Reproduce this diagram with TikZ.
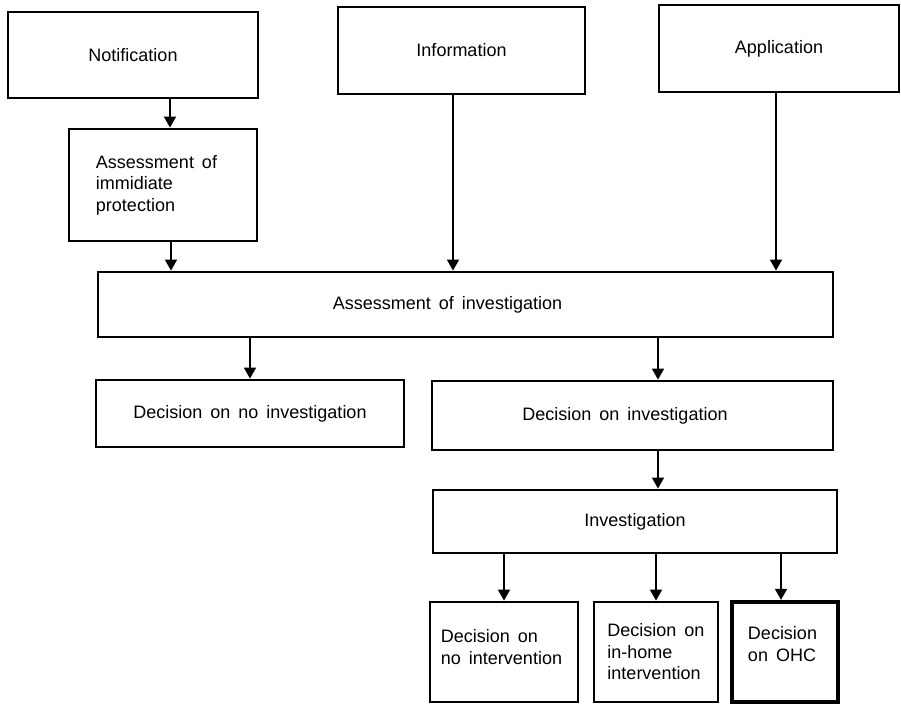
\documentclass[tikz,border=0pt]{standalone}
\usepackage{fontspec}
\setmainfont[WordSpace=1.6]{Liberation Sans}
\usetikzlibrary{arrows.meta}
\newcommand{\dn}[1]{\rule[-#1]{0pt}{0pt}}
\begin{document}
\begin{tikzpicture}[x=1pt,y=-1pt,
  box/.style={draw=black,line width=2.8pt,rectangle,inner sep=0pt,
    font=\fontsize{18}{21.5}\selectfont,align=center},
  tbox/.style={box,align=left},
  arr/.style={line width=1.5pt,-{Triangle[width=12pt,length=11pt]}}]
\fill[white] (0,0) rectangle (901,704);
\useasboundingbox (0,0) rectangle (901,704);
% top row
\node[box,minimum width=250pt,minimum height=86pt] (notif) at (133,55) {Notification};
\node[box,minimum width=247pt,minimum height=87pt] (info) at (461.5,50.5) {Information};
\node[box,minimum width=240pt,minimum height=87pt] (appl) at (779,48.5) {Application};
\node[tbox,minimum width=188pt,minimum height=112pt] (aip) at (163,185)
  {Assessment of\hspace*{13pt}\\immidiate\\protection};
\node[box,minimum width=735pt,minimum height=65pt] (aoi) at (465.5,304.5)
  {Assessment of investigation\hspace*{36pt}};
\node[box,minimum width=308pt,minimum height=67pt] (dni) at (250,413.5) {Decision on no investigation};
\node[box,minimum width=401pt,minimum height=69pt] (di) at (632.5,415.5) {Decision on investigation\hspace*{15pt}};
\node[box,minimum width=404pt,minimum height=63pt] (inv) at (635,521.5) {Investigation};
\node[tbox,minimum width=148pt,minimum height=100pt] (b1) at (504,652)
  {Decision on\\no intervention\hspace*{5pt}\dn{10pt}};
\node[tbox,minimum width=124pt,minimum height=100pt] (b2) at (656,652)
  {Decision on\\in-home\\intervention};
\node[tbox,line width=4.2pt,minimum width=106pt,minimum height=100pt] (b3) at (785,652)
  {Decision\hspace*{5pt}\\on OHC\dn{16pt}};
% connectors
\coordinate (c1) at ([xshift=37pt]notif.south);
\draw[arr] (c1) -- (c1 |- aip.north);
\coordinate (c2) at ([xshift=8pt]aip.south);
\draw[arr] (c2) -- (c2 |- aoi.north);
\coordinate (c3) at ([xshift=-8.5pt]info.south);
\draw[arr] (c3) -- (c3 |- aoi.north);
\coordinate (c4) at ([xshift=-3pt]appl.south);
\draw[arr] (c4) -- (c4 |- aoi.north);
\draw[arr] (aoi.south -| dni.north) -- (dni.north);
\coordinate (c6) at ([xshift=25.5pt]di.north);
\draw[arr] (aoi.south -| c6) -- (c6);
\draw[arr] (di.south -| c6) -- (inv.north -| c6);
\draw[arr] (inv.south -| b1.north) -- (b1.north);
\draw[arr] (inv.south -| b2.north) -- (b2.north);
\coordinate (c10) at ([xshift=-4pt]b3.north);
\draw[arr] (inv.south -| c10) -- (c10);
\end{tikzpicture}
\end{document}
